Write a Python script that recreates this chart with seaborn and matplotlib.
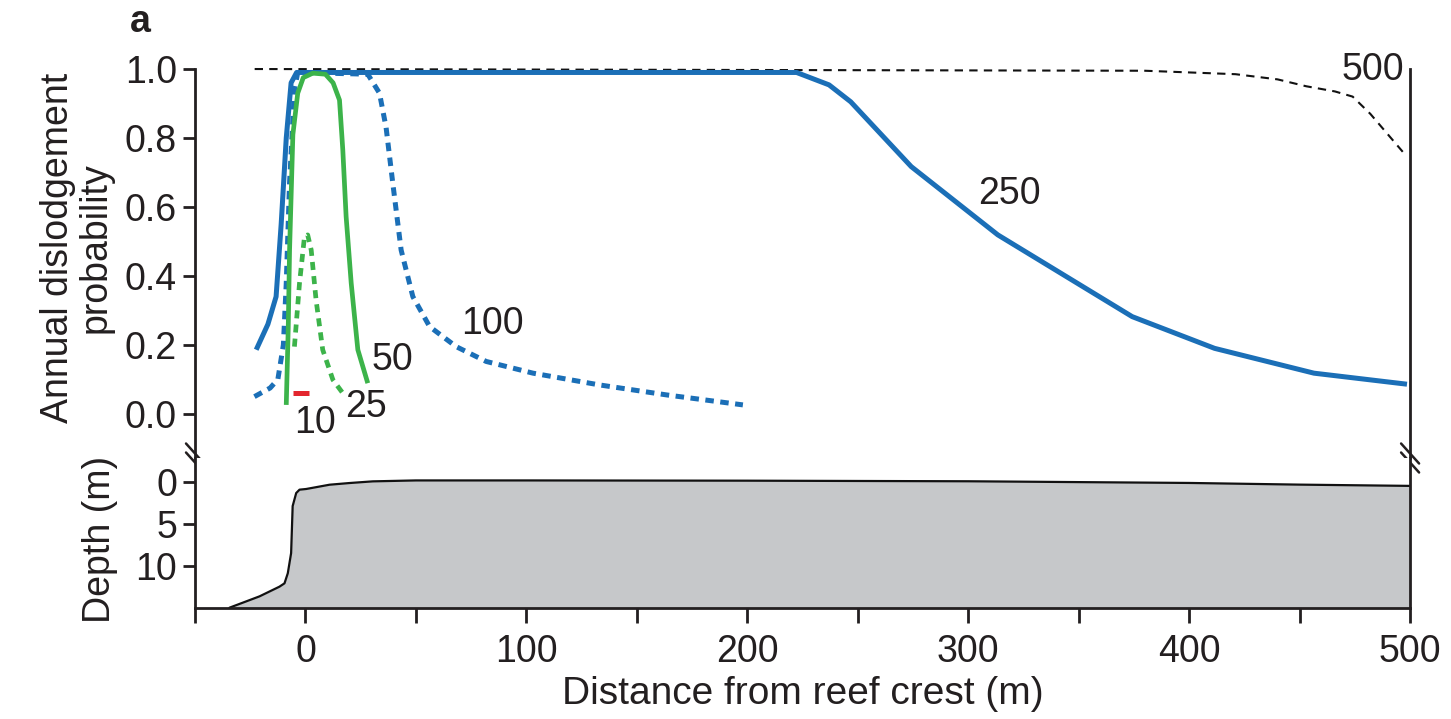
import numpy as np
import pandas as pd
import matplotlib
matplotlib.use("Agg")
import matplotlib.pyplot as plt
from matplotlib import font_manager
import seaborn as sns

# ---------------- data ----------------
# dislodgement probability curves, wave height class labels 10..500
d250 = [-22.3, -17.0, -13.3, -11.0, -8.7, -6.5, -4.0, 222.3, 237.0, 246.8, 274.2, 313.4, 374.2, 411.5, 456.5, 498.6]
p250 = [0.186, 0.26, 0.34, 0.55, 0.80, 0.96, 0.99, 0.99, 0.954, 0.905, 0.717, 0.519, 0.282, 0.19, 0.118, 0.086]

d100 = [-23.1, -16.0, -12.5, -10.0, -8.7, -7.2, -5.0, -3.5, 28.2, 33.5, 36.5, 39.5, 43.3, 48.6, 56.2, 68.2, 81.8, 103.0, 133.0, 163.4, 198.0]
p100 = [0.05, 0.075, 0.10, 0.20, 0.379, 0.67, 0.94, 0.99, 0.985, 0.93, 0.83, 0.67, 0.475, 0.34, 0.253, 0.195, 0.152, 0.118, 0.084, 0.055, 0.026]

d50 = [-8.7, -7.8, -7.2, -5.7, -3.5, -1.0, 3.3, 9.0, 12.5, 15.4, 16.9, 18.4, 20.7, 23.7, 28.2]
p50 = [0.026, 0.25, 0.475, 0.81, 0.93, 0.975, 0.988, 0.985, 0.96, 0.91, 0.765, 0.572, 0.379, 0.186, 0.089]

d25 = [-5.0, -2.7, -0.45, 1.0, 2.6, 4.8, 7.8, 12.4, 16.9]
p25 = [0.195, 0.379, 0.514, 0.519, 0.475, 0.33, 0.186, 0.099, 0.06]

d10 = [-5.7, 1.8]
p10 = [0.06, 0.06]

d500 = [-23.0, 380.0, 421.0, 440.0, 453.0, 466.0, 474.0, 482.0, 490.0, 498.0]
p500 = [1.0, 0.995, 0.985, 0.97, 0.95, 0.935, 0.92, 0.87, 0.81, 0.75]

# reef depth profile
dprof = [-34.4, -20.8, -11.8, -9.5, -8.0, -6.5, -5.8, -4.2, -2.7, 0.3, 10.9, 19.9, 30.5, 50.0, 100.0, 200.0, 300.0, 400.0, 450.0, 500.0]
depth = [15.0, 13.65, 12.5, 12.1, 10.9, 8.5, 2.9, 1.35, 0.95, 0.87, 0.36, 0.16, -0.04, -0.15, -0.15, -0.12, -0.05, 0.15, 0.35, 0.5]

curve_labels = ["500", "250", "100", "50", "25", "10"]
label_x = [483.2, 318.8, 84.7, 39.4, 27.6, 4.1]
label_y = [0.997, 0.638, 0.261, 0.157, 0.02, -0.026]

prob_ticks = [0.0, 0.2, 0.4, 0.6, 0.8, 1.0]
depth_ticks = [0, 5, 10]
dist_ticks = list(range(-50, 501, 50))
dist_labels = [str(t) if t % 100 == 0 else "" for t in dist_ticks]

# ---------------- style ----------------
sns.set_style("ticks")
plt.rcParams["font.family"] = ["Liberation Sans", "DejaVu Sans"]
TXT = "#231f20"
plt.rcParams["text.color"] = TXT
plt.rcParams["axes.labelcolor"] = TXT
plt.rcParams["xtick.color"] = TXT
plt.rcParams["ytick.color"] = TXT
FS = 27

# pick a real sans-serif bold face for the panel letter
bold_family = "DejaVu Sans"
for fam in ["Liberation Sans", "Roboto", "Noto Sans", "Open Sans", "Lato", "DejaVu Sans"]:
    try:
        pth = font_manager.findfont(font_manager.FontProperties(family=fam, weight="bold"),
                                    fallback_to_default=False)
        if "bold" in pth.lower() and "serif" not in pth.lower().replace("sans", ""):
            bold_family = fam
            break
    except Exception:
        pass

BLUE = "#1b6fb7"
GREEN = "#3cb34a"
RED = "#e3262e"

fig = plt.figure(figsize=(14.51, 7.19), dpi=100)
ax1 = fig.add_axes([0.1344, 0.3630, 0.8374, 0.5410])
ax2 = fig.add_axes([0.1344, 0.1548, 0.8374, 0.2082])

# ---------------- top panel ----------------
sns.lineplot(x=d500, y=p500, ax=ax1, color="#111111", lw=1.5, sort=False, estimator=None,
             linestyle=(0, (4, 3)), clip_on=False)
sns.lineplot(x=d100, y=p100, ax=ax1, color=BLUE, lw=3.6, sort=False, estimator=None,
             linestyle=(0, (1.7, 1.3)), clip_on=False)
sns.lineplot(x=d250, y=p250, ax=ax1, color=BLUE, lw=3.6, sort=False, estimator=None,
             clip_on=False, solid_capstyle="butt")
sns.lineplot(x=d25, y=p25, ax=ax1, color=GREEN, lw=3.4, sort=False, estimator=None,
             linestyle=(0, (1.7, 1.3)), clip_on=False)
sns.lineplot(x=d50, y=p50, ax=ax1, color=GREEN, lw=3.4, sort=False, estimator=None,
             clip_on=False, solid_capstyle="butt")
sns.lineplot(x=d10, y=p10, ax=ax1, color=RED, lw=3.6, sort=False, estimator=None,
             clip_on=False, solid_capstyle="butt")

for lab, lx, ly in zip(curve_labels, label_x, label_y):
    ax1.text(lx, ly, lab, fontsize=FS, ha="center", va="center", clip_on=False, color=TXT)

ax1.set_xlim(-50, 500)
ax1.set_ylim(-0.128, 1.0)
ax1.set_yticks(prob_ticks)
ax1.set_yticklabels([f"{t:.1f}" for t in prob_ticks])
ax1.set_xticks([])
for s in ["top", "bottom"]:
    ax1.spines[s].set_visible(False)
for s in ["left", "right"]:
    ax1.spines[s].set_linewidth(2.0)
    ax1.spines[s].set_color(TXT)
ax1.tick_params(axis="y", direction="out", length=9, width=2, labelsize=FS, pad=4)
ax1.set_xlabel("")
ax1.set_ylabel("")

# ---------------- bottom panel ----------------
prof = pd.DataFrame({"dist": dprof, "depth": depth})
ax2.fill_between(prof["dist"], prof["depth"], 15, color="#c6c8ca", lw=0)
sns.lineplot(data=prof, x="dist", y="depth", ax=ax2, color="#111111", lw=1.6, sort=False, estimator=None)
ax2.set_xlim(-50, 500)
ax2.set_ylim(15, -2.82)
ax2.set_yticks(depth_ticks)
ax2.set_yticklabels([str(t) for t in depth_ticks])
ax2.set_xticks(dist_ticks)
ax2.set_xticklabels(dist_labels)
ax2.spines["top"].set_visible(False)
for s in ["left", "right", "bottom"]:
    ax2.spines[s].set_linewidth(2.0)
    ax2.spines[s].set_color(TXT)
ax2.tick_params(axis="y", direction="out", length=9, width=2, labelsize=FS, pad=4)
ax2.tick_params(axis="x", direction="out", length=11, width=2, labelsize=FS, pad=8)
ax2.set_xlabel("Distance from reef crest (m)", fontsize=28, labelpad=4)
ax2.set_ylabel("")

# ---------------- axis break marks ----------------
dx = 9 / 1215.0
dy = 10 / 389.0
off = 4.5 / 389.0
for xx in (0.0, 1.0):
    for o in (off, -off):
        ax1.plot([xx - dx, xx + dx], [o + dy, o - dy], transform=ax1.transAxes,
                 color=TXT, lw=1.8, clip_on=False)

# ---------------- labels ----------------
fig.text(0.053, 0.655, "Annual dislodgement\nprobability", rotation=90, ha="center", va="center",
         fontsize=FS, multialignment="center", linespacing=1.05)
fig.text(0.069, 0.25, "Depth (m)", rotation=90, ha="center", va="center", fontsize=FS)
fig.text(0.0965, 0.969, "a", fontsize=FS, fontweight="bold", family=bold_family,
         ha="center", va="center")

fig.savefig("out.png", dpi=100)
